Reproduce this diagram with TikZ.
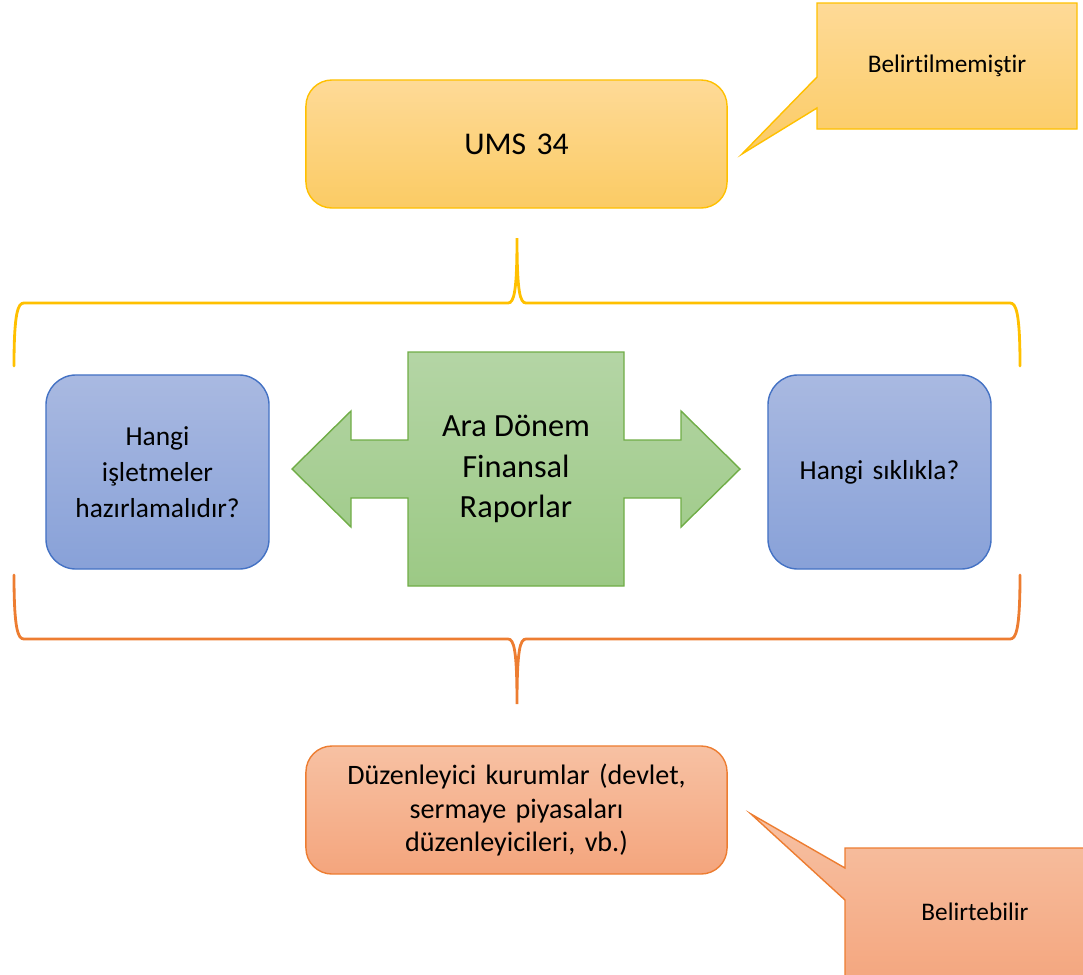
\documentclass[tikz,border=0pt]{standalone}
\usepackage{fontspec}
\setmainfont{Carlito}[Ligatures=NoCommon]
\definecolor{ylwline}{HTML}{FFC000}
\definecolor{ylwtop}{HTML}{FEDA97}
\definecolor{ylwbot}{HTML}{FBCB64}
\definecolor{orgline}{HTML}{ED7D31}
\definecolor{orgtop}{HTML}{F7C1A3}
\definecolor{orgbot}{HTML}{F4A57D}
\definecolor{bluline}{HTML}{4472C4}
\definecolor{blutop}{HTML}{A9B9E1}
\definecolor{blubot}{HTML}{88A1D8}
\definecolor{grnline}{HTML}{70AD47}
\definecolor{grntop}{HTML}{B4D5A5}
\definecolor{grnbot}{HTML}{9CC985}
\tikzset{
  ylwfill/.style={draw=ylwline, line width=1pt, top color=ylwtop, bottom color=ylwbot},
  orgfill/.style={draw=orgline, line width=1pt, top color=orgtop, bottom color=orgbot},
  blufill/.style={draw=bluline, line width=1pt, top color=blutop, bottom color=blubot},
  grnfill/.style={draw=grnline, line width=1pt, top color=grntop, bottom color=grnbot},
  wide box/.style={rounded corners=0.65cm, minimum width=10.525cm, minimum height=3.2cm,
    align=center, text width=9cm},
  side box/.style={blufill, rounded corners=0.75cm, minimum width=5.575cm, minimum height=4.85cm,
    align=center, text width=4.6cm, font=\fontsize{19.5}{25.5}\selectfont},
  note text/.style={font=\fontsize{18}{22}\selectfont},
  brace line/.style={line width=2pt, line cap=round}
}
\begin{document}
\begin{tikzpicture}[x=0.025cm, y=0.025cm]
\path[use as bounding box, clip] (0,0) rectangle (1083,-974);

\path[ylwfill] (817,-3) -- (1077,-3) -- (1077,-129) -- (817,-129) -- (817,-108) -- (742,-154) -- (817,-77) -- cycle;
\path (947,-66) node[note text] (belirt1) {Belirtilmemiştir};
\path (516.5,-144) node[ylwfill, wide box, font=\fontsize{22.5}{27}\selectfont] (ums) {UMS 34};

\draw[brace line, ylwline] (14,-366) .. controls (14,-312) and (18,-303) .. (24,-303) -- (508,-303)
  .. controls (514,-303) and (517,-292) .. (517,-238) .. controls (517,-292) and (520,-303) .. (526,-303)
  -- (1010,-303) .. controls (1016,-303) and (1020,-312) .. (1020,-366);

\path (157.5,-472) node[side box] (hangi1) {Hangi\\ işletmeler\\ hazırlamalıdır?};
\path (879.5,-472) node[side box] (hangi2) {Hangi sıklıkla?};

\path[grnfill] (408,-352) -- (624,-352) -- (624,-440) -- (681,-440) -- (681,-411) -- (740,-469)
  -- (681,-527) -- (681,-498) -- (624,-498) -- (624,-586) -- (408,-586) -- (408,-498) -- (351,-498)
  -- (351,-527) -- (292,-469) -- (351,-411) -- (351,-440) -- (408,-440) -- cycle;
\path (516,-469) node[align=center, font=\fontsize{23}{29}\selectfont] (ara) {Ara Dönem\\ Finansal\\ Raporlar};

\draw[brace line, orgline] (14,-575) .. controls (14,-630) and (18,-639) .. (24,-639) -- (508,-639)
  .. controls (514,-639) and (517,-650) .. (517,-704) .. controls (517,-650) and (520,-639) .. (526,-639)
  -- (1010,-639) .. controls (1016,-639) and (1020,-630) .. (1020,-575);

\path (516.5,-810) node[orgfill, wide box, font=\fontsize{20}{24}\selectfont] (duzen) {Düzenleyici kurumlar (devlet,\\ sermaye piyasaları\\ düzenleyicileri, vb.)};

\path[orgfill] (845,-848) -- (1100,-848) -- (1100,-990) -- (845,-990) -- (845,-900) -- (751,-814) -- (845,-868) -- cycle;
\path (975,-912) node[note text] (belirt2) {Belirtebilir};
\end{tikzpicture}
\end{document}
